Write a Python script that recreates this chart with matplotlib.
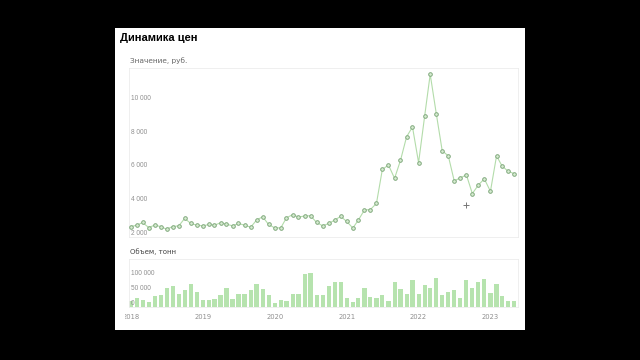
import matplotlib
matplotlib.use("Agg")
import matplotlib.pyplot as plt
from matplotlib.patches import Rectangle
from matplotlib.transforms import Bbox, TransformedBbox, blended_transform_factory
import pandas as pd

# monthly data, Jan 2018 .. May 2023
months = pd.date_range("2018-01-01", "2023-05-01", freq="MS")

price = [2620, 2700, 2860, 2560, 2700, 2620, 2460, 2620, 2660, 3100,
         2800, 2700, 2660, 2740, 2700, 2840, 2760, 2660, 2800, 2700,
         2580, 3000, 3200, 2740, 2540, 2540, 3140, 3320, 3180, 3240,
         3260, 2860, 2660, 2800, 3000, 3220, 2920, 2530, 3000, 3600,
         3620, 3990, 6000, 6260, 5470, 6530, 7930, 8510, 6400, 9170,
         11630, 9290, 7100, 6800, 5320, 5500, 5670, 4570, 5080, 5440,
         4700, 6800, 6200, 5890, 5750]

volume = [20500, 30700, 23900, 17000, 35200, 39800, 62500, 69300, 42000, 56800,
          77300, 50000, 23900, 23900, 27300, 38600, 63000, 27000, 45000, 45000,
          56000, 77000, 60000, 39000, 13000, 24000, 19000, 45000, 45000, 110000,
          112000, 39000, 38500, 70000, 84000, 83000, 30700, 16000, 29500, 63600,
          35000, 29500, 38600, 21600, 82000, 61000, 45000, 91000, 43000, 74000,
          65000, 96600, 41000, 50000, 57000, 30700, 91000, 63600, 82000, 94000,
          48000, 77000, 37500, 21600, 20500]

# stray cursor cross visible in the screenshot
cursor_date = [pd.Timestamp("2022-08-28")]
cursor_value = [3900]

year_ticks = pd.date_range("2018-01-01", "2023-01-01", freq="YS")
price_ticks = [2000, 4000, 6000, 8000, 10000]
volume_ticks = [0, 50000, 100000]


def fmt(v):
    return f"{int(v):,}".replace(",", " ")


W, H = 640, 360
fig = plt.figure(figsize=(6.4, 3.6), dpi=100, facecolor="black")
fig.add_artist(Rectangle((115 / W, 1 - 330 / H), 410 / W, 302 / H,
                         transform=fig.transFigure, facecolor="white",
                         edgecolor="none", zorder=-1))

xlim = (months[0] - pd.Timedelta(days=10), months[-1] + pd.Timedelta(days=20))
tick_color = "#8f8f8f"
tick_font = dict(fontsize=4.7, family="Liberation Sans", color=tick_color)
border = "#ececec"


def inner_labels(axis, ticks, z):
    # y labels sit inside the plot, just above their (invisible) grid line
    trans = blended_transform_factory(axis.transAxes, axis.transData)
    for v in ticks:
        axis.text(0.005, v, fmt(v), transform=trans, ha="left", va="bottom",
                  zorder=z, **tick_font)
    axis.set_yticks([])


# price panel
ax = fig.add_axes([129 / W, 1 - 237 / H, 389 / W, 169 / H])
ax.plot(months, price, "-", color="#b3dcaa", linewidth=0.8, zorder=2)
ax.plot(months, price, "o", markersize=2.6, markerfacecolor="#d8edd2",
        markeredgecolor="#7fa87c", markeredgewidth=0.7, zorder=3)
ax.plot(cursor_date, cursor_value, "+", color="#777777", markersize=4,
        markeredgewidth=0.7)
ax.set_xlim(xlim)
ax.set_ylim(2000, 12000)
ax.set_xticks([])
inner_labels(ax, price_ticks, 1)
for s in ax.spines.values():
    s.set_color(border)
    s.set_linewidth(0.6)

# volume panel
axv = fig.add_axes([129 / W, 1 - 307 / H, 389 / W, 48 / H])
axv.bar(months, volume, width=21, color="#b6e3ae", edgecolor="none", zorder=2)
axv.set_xlim(xlim)
axv.set_ylim(0, 160000)
inner_labels(axv, volume_ticks, 3)
axv.set_xticks(year_ticks)
axv.set_xticklabels([d.strftime("%Y") for d in year_ticks])
axv.tick_params(axis="x", length=0, pad=5, labelsize=4.9, labelcolor=tick_color)
clip = TransformedBbox(Bbox.from_extents(125 / W, 0, 1, 1), fig.transFigure)
for lbl in axv.get_xticklabels():
    lbl.set_clip_box(clip)
    lbl.set_clip_on(True)
for s in axv.spines.values():
    s.set_color(border)
    s.set_linewidth(0.6)

fig.text(120 / W, 1 - 38 / H, "Динамика цен", fontsize=8, fontweight="bold",
         family="Liberation Sans", color="black", va="center")
fig.text(130 / W, 1 - 61 / H, "Значение, руб.", fontsize=5.3, color="#666666",
         va="center")
fig.text(130 / W, 1 - 252 / H, "Объем, тонн", fontsize=5.0, color="#444444",
         va="center")

fig.savefig("out.png", dpi=100, facecolor="black")
